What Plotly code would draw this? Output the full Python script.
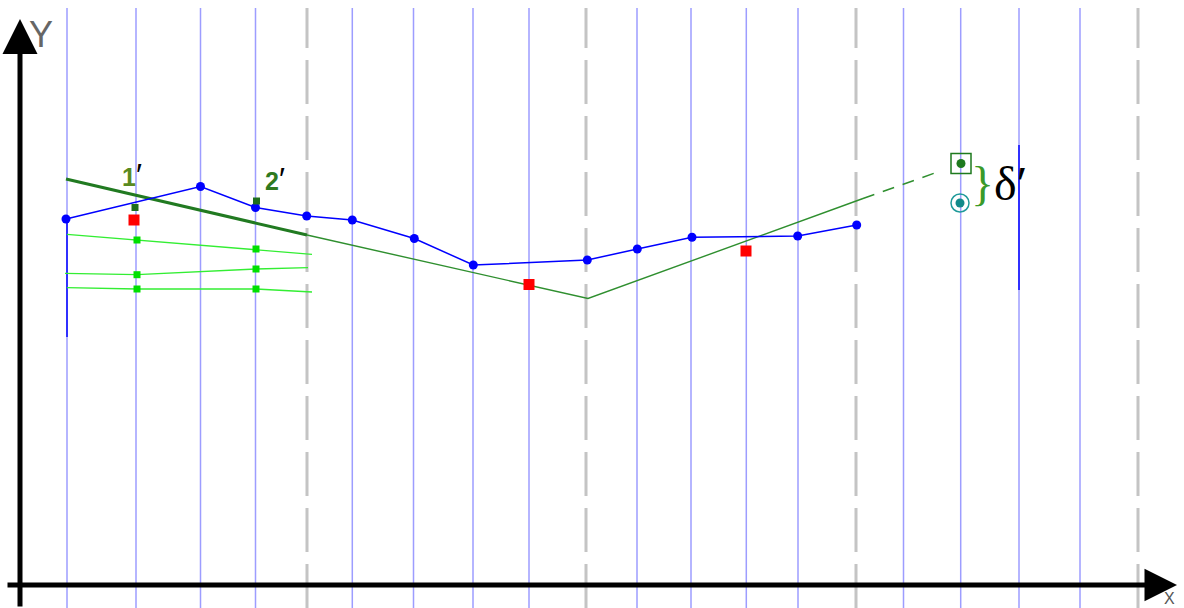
import plotly.graph_objects as go

# ---- data (x: distance from Y axis, y: height above X axis) ----
grid_x = [47, 116, 180.5, 235.5, 332.3, 393.5, 453, 509, 617, 671, 726.3, 778,
          883.5, 940.7, 999, 1060]
dash_x = [287, 566, 836, 1118]
grid_top = 577
grid_bottom = -23

blue_x = [46, 180.5, 235.5, 286.7, 332.3, 394.3, 453.3, 567.3, 617.3, 672, 777.7, 836.7]
blue_y = [366, 398.5, 377.5, 369, 365, 346.5, 320, 325, 336, 347.7, 349, 360]

red_x = [114, 509, 726]
red_y = [365, 300.5, 334]

dkg_sq_x = [115, 236.5]
dkg_sq_y = [377.5, 384]

thick_x = [46, 287]
thick_y = [406, 350]
broken_x = [287, 568, 843]
broken_y = [350, 286.5, 386.5]
ext_x = [843, 915]
ext_y = [386.5, 412]

lg1_x = [47, 117, 236, 292]
lg1_y = [350.7, 345, 336, 330.7]
lg2_x = [45, 117, 236, 288]
lg2_y = [311.7, 310.3, 316, 317.3]
lg3_x = [47, 117, 236, 292]
lg3_y = [297.3, 296, 296, 293]

seg1_x = [47, 47]
seg1_y = [366, 248]
seg2_x = [999, 999]
seg2_y = [440, 295]

pred_x, pred_y = [941], [421.5]
true_x, true_y = [940], [382]

label1_pos = (112, 410)
label2_pos = (255, 406)
delta_pos = (979, 402)

fig = go.Figure()


def vlines(xs, y0, y1):
    X, Y = [], []
    for v in xs:
        X += [v, v, None]
        Y += [y0, y1, None]
    return X, Y


gx, gy = vlines(grid_x, grid_bottom, grid_top)
fig.add_trace(go.Scatter(x=gx, y=gy, mode="lines",
                         line=dict(color="#9d9dff", width=1.5), hoverinfo="skip"))
dx, dy = vlines(dash_x, grid_bottom, grid_top)
fig.add_trace(go.Scatter(x=dx, y=dy, mode="lines",
                         line=dict(color="#c4c4c4", width=3, dash="44px,12px"),
                         hoverinfo="skip"))

for sx, sy in [(seg1_x, seg1_y), (seg2_x, seg2_y)]:
    fig.add_trace(go.Scatter(x=sx, y=sy, mode="lines",
                             line=dict(color="#3030ff", width=2)))

# light green lines
for lx, ly in [(lg1_x, lg1_y), (lg2_x, lg2_y), (lg3_x, lg3_y)]:
    fig.add_trace(go.Scatter(x=lx, y=ly, mode="lines",
                             line=dict(color="#33ee33", width=1.3)))
    fig.add_trace(go.Scatter(x=lx[1:3], y=ly[1:3], mode="markers",
                             marker=dict(symbol="square", size=7, color="#00e000")))

# green broken line
fig.add_trace(go.Scatter(x=broken_x, y=broken_y, mode="lines",
                         line=dict(color="#2f8f2f", width=1.4)))
fig.add_trace(go.Scatter(x=ext_x, y=ext_y, mode="lines",
                         line=dict(color="#2f8f2f", width=1.4, dash="12px,9px")))
fig.add_trace(go.Scatter(x=thick_x, y=thick_y, mode="lines",
                         line=dict(color="#217a21", width=3)))

# blue polyline
fig.add_trace(go.Scatter(x=blue_x, y=blue_y, mode="lines+markers",
                         line=dict(color="#0000ff", width=1.5),
                         marker=dict(symbol="circle", size=9, color="#0000ff")))

# red squares
fig.add_trace(go.Scatter(x=red_x, y=red_y, mode="markers",
                         marker=dict(symbol="square", size=11, color="#ff0000")))
# dark green squares
fig.add_trace(go.Scatter(x=dkg_sq_x, y=dkg_sq_y, mode="markers",
                         marker=dict(symbol="square", size=7, color="#1e6e1e")))

# predicted point with box
fig.add_trace(go.Scatter(x=pred_x, y=pred_y, mode="markers",
                         marker=dict(symbol="square-open", size=20, color="#1e7a1e",
                                     line=dict(width=1.5, color="#1e7a1e"))))
fig.add_trace(go.Scatter(x=pred_x, y=pred_y, mode="markers",
                         marker=dict(symbol="circle", size=9, color="#1e7a1e")))
# true point
fig.add_trace(go.Scatter(x=true_x, y=true_y, mode="markers",
                         marker=dict(symbol="circle-open", size=18, color="#1f9a9a",
                                     line=dict(width=1.5, color="#1f9a9a"))))
fig.add_trace(go.Scatter(x=true_x, y=true_y, mode="markers",
                         marker=dict(symbol="circle", size=9, color="#138a8a")))

prime = "<span style='color:black;font-size:32px'>′</span>"
ann = []
# axes as arrows
ann.append(dict(x=0, y=566, ax=0, ay=grid_bottom, xref="x", yref="y", axref="x", ayref="y",
                text="", showarrow=True, arrowhead=2, arrowsize=1.4, arrowwidth=5,
                arrowcolor="black"))
ann.append(dict(x=1157, y=0, ax=-14, ay=0, xref="x", yref="y", axref="x", ayref="y",
                text="", showarrow=True, arrowhead=2, arrowsize=1.3, arrowwidth=5,
                arrowcolor="black"))
ann.append(dict(x=21, y=551, xref="x", yref="y", text="Y", showarrow=False,
                font=dict(family="Liberation Sans", size=36, color="#666666")))
ann.append(dict(x=1149, y=-13, xref="x", yref="y", text="X", showarrow=False,
                font=dict(family="Liberation Sans", size=16, color="#555555")))
ann.append(dict(x=label1_pos[0], y=label1_pos[1], xref="x", yref="y",
                text="<b>1</b>" + prime, showarrow=False,
                font=dict(family="Liberation Sans", size=25, color="#5a8a1f")))
ann.append(dict(x=label2_pos[0], y=label2_pos[1], xref="x", yref="y",
                text="<b>2</b>" + prime, showarrow=False,
                font=dict(family="Liberation Sans", size=25, color="#2f7a1f")))
ann.append(dict(x=delta_pos[0], y=delta_pos[1], xref="x", yref="y",
                text="<span style='color:#3a9a2a'>}</span>δ′", showarrow=False,
                font=dict(family="Liberation Serif", size=48, color="black")))
fig.update_layout(annotations=ann)

fig.update_layout(
    width=1184, height=608,
    margin=dict(l=0, r=0, t=0, b=0),
    paper_bgcolor="white", plot_bgcolor="white",
    showlegend=False,
    xaxis=dict(range=[-20, 1164], visible=False, fixedrange=True),
    yaxis=dict(range=[-23, 585], visible=False, fixedrange=True),
)

fig.write_html("out.html", config={"displayModeBar": False},
               post_script="document.body.style.margin='0';document.body.style.overflow='hidden';")
